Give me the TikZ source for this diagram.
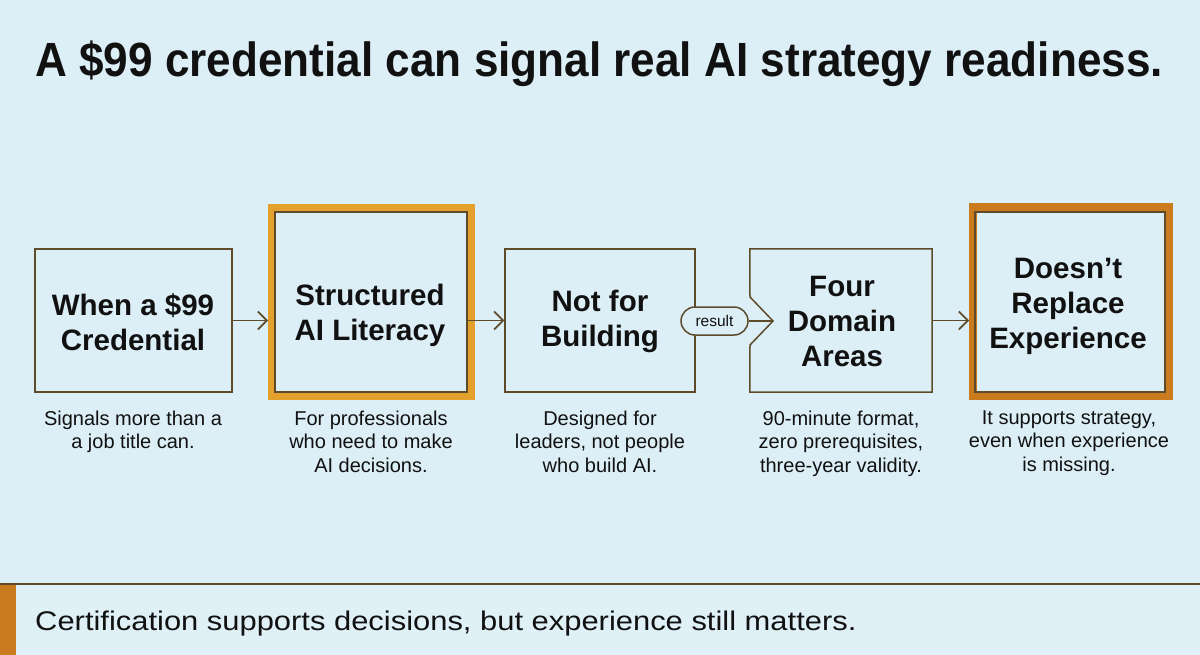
\documentclass[tikz,border=0pt]{standalone}
\usepackage{fontspec}
\setmainfont{Liberation Sans}
\usetikzlibrary{arrows.meta,shapes.misc}
\definecolor{bg}{HTML}{DCEEF6}
\definecolor{bgband}{HTML}{DFF0F7}
\definecolor{brownline}{HTML}{5E4B2C}
\definecolor{orangeA}{HTML}{E4A02C}
\definecolor{orangeB}{HTML}{C97B1E}
\definecolor{ink}{HTML}{111111}
\tikzset{
  boxtext/.style={align=center,font=\bfseries\fontsize{29.5}{35}\selectfont,text=ink,inner sep=0pt},
  captext/.style={align=center,font=\fontsize{20}{23.5}\selectfont,text=ink,inner sep=0pt,anchor=north},
  plainbox/.style={draw=brownline,line width=1.5pt,rectangle,inner sep=0pt},
  conn/.style={draw=brownline,line width=1.6pt,-{Straight Barb[length=9pt,width=18pt,line width=1.6pt]}},
  pill/.style={draw=brownline,line width=1.5pt,rounded rectangle,fill=bg,minimum width=67pt,minimum height=28pt,inner sep=0pt,font=\fontsize{15.5}{18}\selectfont,text=ink}
}
\begin{document}
\begin{tikzpicture}[x=1pt,y=-1pt]
\fill[bg] (0,0) rectangle (1200,655);
\useasboundingbox (0,0) rectangle (1200,655);
% title
\node[anchor=base west,inner sep=0pt,font=\bfseries\fontsize{48}{56}\selectfont,text=ink] (title) at (35,77) {\scalebox{0.919}[1]{A \$99 credential can signal real AI strategy readiness.}};
% box 1
\node[plainbox,minimum width=197pt,minimum height=143pt] (b1) at (133.5,320.5) {};
\node[boxtext] (t1) at (133,322) {When a \$99\\Credential};
% box 2
\node[rectangle,draw=orangeA,line width=8pt,minimum width=199pt,minimum height=188pt,inner sep=0pt] (b2) at (371.5,302) {};
\node[rectangle,draw=brownline,line width=1.5pt,minimum width=192pt,minimum height=180pt,inner sep=0pt] (b2in) at (371,302) {};
\node[boxtext] (t2) at (370,315) {Structured\\AI Literacy};
% box 3
\node[plainbox,minimum width=190pt,minimum height=143pt] (b3) at (600,320.5) {};
\node[boxtext] (t3) at (600,321) {Not for\\Building};
% box 4 with notch
\node[rectangle,minimum width=182pt,minimum height=143pt,inner sep=0pt] (b4) at (841,320.5) {};
\coordinate (tip) at (773,321);
\draw[brownline,line width=1.5pt,line join=miter] (b4.north west) -- (b4.north east) -- (b4.south east) -- (b4.south west) -- (750,345) -- (tip) -- (750,297) -- cycle;
\node[boxtext] (t4) at (842,321.5) {Four\\Domain\\Areas};
% box 5
\node[rectangle,draw=orangeB,line width=8pt,minimum width=196pt,minimum height=189pt,inner sep=0pt] (b5) at (1071,301.5) {};
\node[rectangle,draw=brownline,line width=1.5pt,minimum width=190pt,minimum height=180pt,inner sep=0pt] (b5in) at (1070,302) {};
\node[boxtext] (t5) at (1068,306.5) {Doesn’t\\Replace\\Experience};
% connectors
\draw[conn] (b1.east) -- (b1.east -| b2.west);
\draw[conn] (b2in.east |- b3.west) -- (b3.west);
\draw[brownline,line width=1.5pt] (b3.east) -- (714,321);
\node[pill] (res) at (714.5,321) {result};
\draw[brownline,line width=1.6pt] (res.east) -- (tip);
\draw[conn] (b4.east) -- (b4.east -| b5.west);
% captions
\node[captext] (c1) at (133,410.5) {Signals more than a\\a job title can.};
\node[captext] (c2) at (371,410.5) {For professionals\\who need to make\\AI decisions.};
\node[captext] (c3) at (600,410.5) {Designed for\\leaders, not people\\who build AI.};
\node[captext] (c4) at (841,410.5) {90-minute format,\\zero prerequisites,\\three-year validity.};
\node[captext] (c5) at (1069,410.5) {It supports strategy,\\even when experience\\is missing.};
% bottom band
\fill[bgband] (0,584) rectangle (1200,655);
\fill[orangeB] (0,584) rectangle (16,655);
\draw[brownline,line width=2pt] (0,584) -- (1200,584);
\node[anchor=base west,inner sep=0pt,font=\fontsize{27}{30}\selectfont,text=ink] (foot) at (35,630) {\scalebox{1.145}[1]{Certification supports decisions, but experience still matters.}};
\end{tikzpicture}
\end{document}
